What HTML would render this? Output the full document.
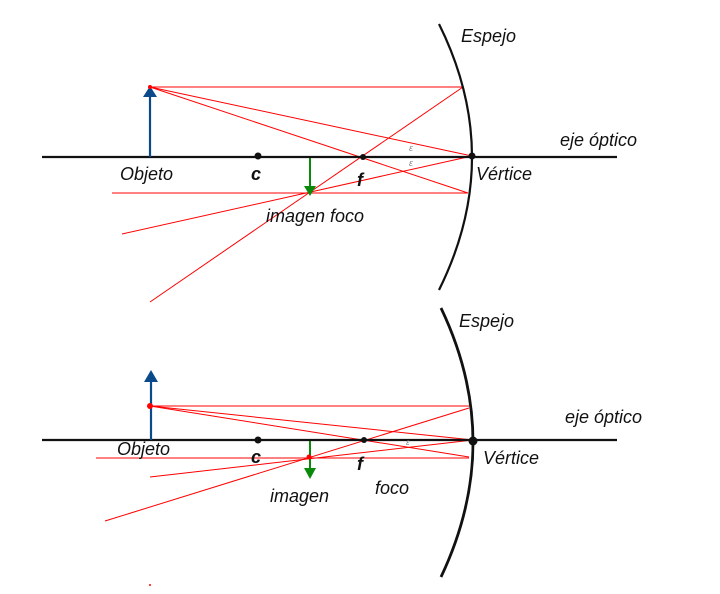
<!DOCTYPE html>
<html><head><meta charset="utf-8"><style>
html,body{margin:0;padding:0;background:#fff;}
svg{display:block}
text{font-family:"Liberation Sans",sans-serif;fill:#111;font-style:italic;}
</style></head><body>
<svg width="720" height="594" viewBox="0 0 720 594" xmlns="http://www.w3.org/2000/svg">
<rect width="720" height="594" fill="#fff"/>
<!-- TOP -->
<g stroke="#f00" stroke-width="1" fill="none">
<line x1="150" y1="87" x2="463" y2="87"/>
<line x1="463" y1="87" x2="150" y2="302"/>
<line x1="150" y1="87" x2="472" y2="156"/>
<line x1="150" y1="87" x2="468" y2="193"/>
<line x1="112" y1="193" x2="468" y2="193"/>
<line x1="472" y1="156" x2="122" y2="234"/>
</g>
<line x1="42" y1="157" x2="617" y2="157" stroke="#111" stroke-width="2.2"/>
<path d="M439 24 Q505 157 439 290" stroke="#111" stroke-width="2.2" fill="none"/>
<line x1="150" y1="157" x2="150" y2="96" stroke="#0b4a8a" stroke-width="2.2"/>
<polygon points="150,86 143,97 157,97" fill="#0b4a8a"/>
<circle cx="150" cy="87" r="2" fill="#f00"/>
<line x1="310" y1="158" x2="310" y2="186" stroke="#0a8a0a" stroke-width="2"/>
<polygon points="310,196 304,186 316,186" fill="#0a8a0a"/>
<circle cx="258" cy="156" r="3.5" fill="#111"/>
<circle cx="363" cy="157" r="3" fill="#111"/>
<circle cx="472" cy="156" r="3.5" fill="#111"/>
<text x="461" y="42" font-size="18">Espejo</text>
<text x="560" y="146" font-size="18">eje óptico</text>
<text x="120" y="180" font-size="18">Objeto</text>
<text x="251" y="180" font-size="18" font-weight="bold">c</text>
<text x="357" y="186" font-size="18" font-weight="bold">f</text>
<text x="476" y="180" font-size="18">Vértice</text>
<text x="266" y="222" font-size="18">imagen foco</text>
<text x="409" y="151" font-size="9" style="fill:#888">ε</text>
<text x="409" y="166" font-size="9" style="fill:#888">ε</text>

<!-- BOTTOM -->
<g stroke="#f00" stroke-width="1" fill="none">
<line x1="150" y1="406" x2="469" y2="406"/>
<line x1="150" y1="406" x2="473" y2="440"/>
<line x1="150" y1="406" x2="469" y2="457"/>
<line x1="96" y1="458" x2="469" y2="458"/>
<line x1="469" y1="408" x2="105" y2="521"/>
<line x1="473" y1="440" x2="150" y2="477"/>
</g>
<line x1="42" y1="440" x2="617" y2="440" stroke="#111" stroke-width="2.2"/>
<path d="M441 308 Q505 442 441 577" stroke="#111" stroke-width="2.8" fill="none"/>
<line x1="151" y1="440" x2="151" y2="382" stroke="#0b4a8a" stroke-width="2.2"/>
<polygon points="151,370 144,382 158,382" fill="#0b4a8a"/>
<circle cx="150" cy="406" r="3" fill="#f00"/>
<line x1="310" y1="441" x2="310" y2="468" stroke="#0a8a0a" stroke-width="2"/>
<polygon points="310,479 304,468 316,468" fill="#0a8a0a"/>
<circle cx="309" cy="457" r="2.5" fill="#f00"/>
<circle cx="258" cy="440" r="3.5" fill="#111"/>
<circle cx="364" cy="440" r="3" fill="#111"/>
<circle cx="473" cy="441" r="4.5" fill="#111"/>
<circle cx="150" cy="585" r="1" fill="#f00"/>
<text x="459" y="327" font-size="18">Espejo</text>
<text x="565" y="423" font-size="18">eje óptico</text>
<text x="117" y="455" font-size="18">Objeto</text>
<text x="251" y="463" font-size="18" font-weight="bold">c</text>
<text x="357" y="470" font-size="18" font-weight="bold">f</text>
<text x="483" y="464" font-size="18">Vértice</text>
<text x="270" y="502" font-size="18">imagen</text>
<text x="375" y="494" font-size="18">foco</text>
<text x="406" y="445" font-size="8" style="fill:#888">ε</text>
</svg>
</body></html>
